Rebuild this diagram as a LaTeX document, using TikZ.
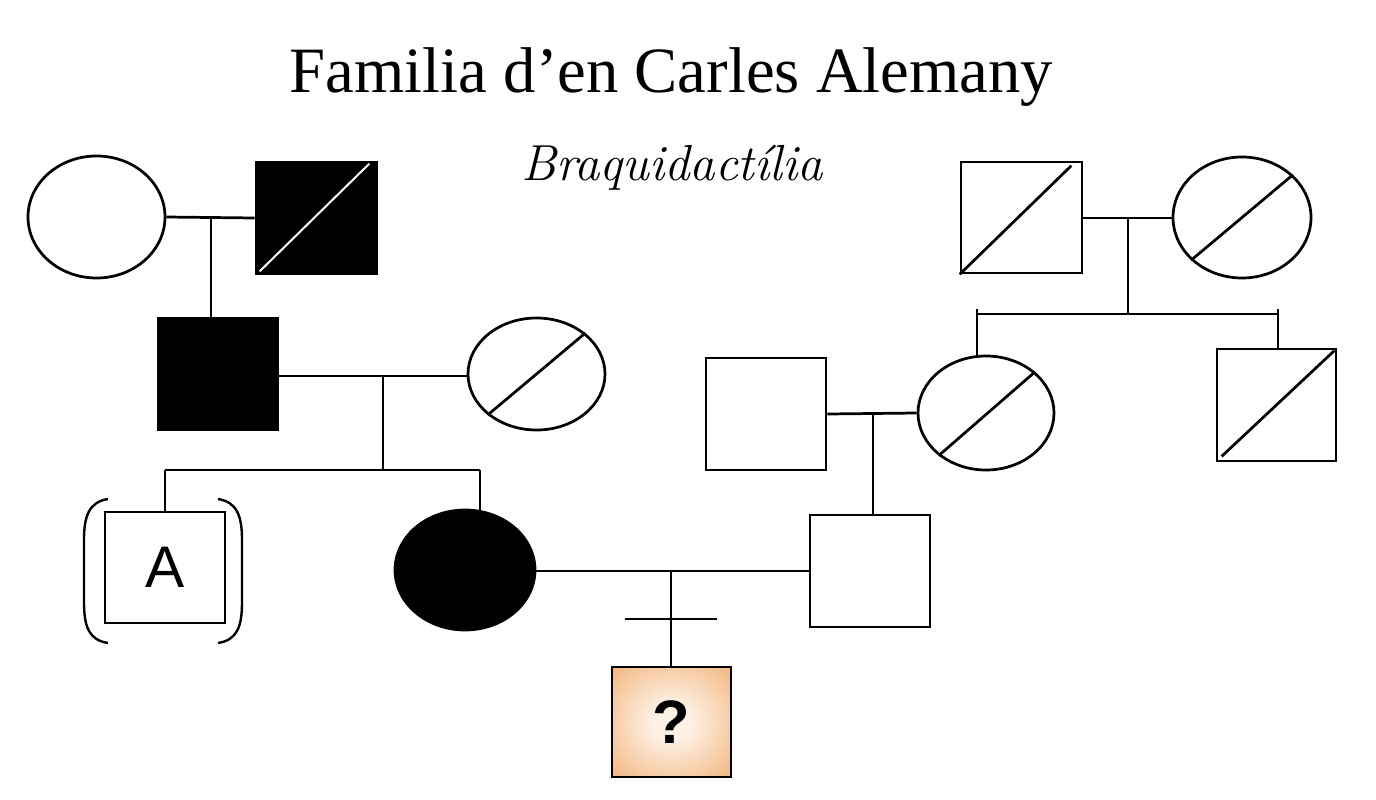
\documentclass[tikz,border=0pt]{standalone}
\usepackage{fontspec}
\usetikzlibrary{shapes.geometric,calc}
\newfontfamily\titlefont{Liberation Serif}
\newfontfamily\labelfont{Liberation Sans}
\definecolor{qin}{HTML}{FDF1E4}
\definecolor{qmid}{HTML}{F3B57E}
\definecolor{qout}{HTML}{EFA460}
\pgfdeclareradialshading{qshade}{\pgfpoint{0bp}{0bp}}{color(0bp)=(qin); color(8bp)=(qin); color(36bp)=(qmid); color(52bp)=(qout); color(70bp)=(qout)}
\begin{document}
\begin{tikzpicture}[x=0.75pt,y=-0.75pt,line width=2.05pt,
  size/.style 2 args={minimum width=#1*0.75pt,minimum height=#2*0.75pt},
  male/.style={draw,rectangle,inner sep=0pt},
  female/.style={draw,ellipse,inner sep=0pt},
  affected/.style={fill=black},
  slash/.style={line width=2.05pt},
  lnk/.style={line width=2.05pt},
  brk/.style={line width=1.8pt}]
\useasboundingbox (0,0) rectangle (1376,799);
% titles
\node[font=\titlefont\fontsize{48.5}{58}\selectfont,anchor=base] (title) at (671.5,92) {Familia d’en Carles Alemany};
\node[font=\itshape\fontsize{38}{44}\selectfont,anchor=base] (sub) at (672,180) {Braquidactília};
% generation I (left)
\node[female,size={137}{122}] (gm1) at (96.5,217) {};
\node[male,affected,size={121}{112}] (gf1) at (316.5,218) {};
\draw[white,line width=1.5pt] ($(gf1.south west)+(5,-4)$) -- ($(gf1.north east)+(-9,3)$);
% generation I (right)
\node[male,size={121}{111}] (ggf) at (1021.5,217.5) {};
\draw[slash] (ggf.south west) -- ($(ggf.north east)+(-12,5)$);
\node[female,size={138}{121}] (ggm) at (1242,217.5) {};
\draw[slash] (ggm.220) -- (ggm.40);
% generation II
\node[male,affected,size={120}{112}] (f1) at (218,374) {};
\node[female,size={137}{112}] (m1) at (536.5,374) {};
\draw[slash] (m1.220) -- (m1.40);
\node[male,size={120}{112}] (gf2) at (766,414) {};
\node[female,size={136}{114}] (gm2) at (986,413) {};
\draw[slash] (gm2.222) -- (gm2.40);
\node[male,size={119}{112}] (unc) at (1276.5,405) {};
\draw[slash] ($(unc.south west)+(6,-6)$) -- ($(unc.north east)+(-3,3)$);
% generation III
\node[male,size={120}{111},font=\labelfont\fontsize{44}{50}\selectfont] (a) at (165,567.5) {A};
\node[female,affected,size={140}{120}] (me) at (465,570) {};
\node[male,size={120}{112}] (hus) at (870,571) {};
% generation IV
\node[male,size={119}{110},shading=qshade,draw=black,
  font=\labelfont\bfseries\fontsize{46}{50}\selectfont] (q) at (671.5,722) {?};
% connectors
\coordinate (c1) at (211,218);
\draw[lnk] (gm1.east) -- (gf1.west);
\draw[lnk] (c1) -- (c1 |- f1.north);
\coordinate (c2) at (383,376);
\draw[lnk] (f1.east |- c2) -- (m1.west |- c2);
\coordinate (s1) at (165,470);
\coordinate (s2) at (480,470);
\draw[lnk] (c2) -- (c2 |- s1);
\draw[lnk] (s1) -- (s2);
\draw[lnk] (s1) -- (a.north);
\draw[lnk] (s2) -- ($(s2 |- me.north)+(0,1)$);
\coordinate (c3) at (671,571);
\draw[lnk] (me.east |- c3) -- (hus.west |- c3);
\draw[lnk] (c3) -- (c3 |- q.north);
\coordinate (x1) at (625,619);
\coordinate (x2) at (717,619);
\draw[lnk] (x1) -- (x2);
\coordinate (c4) at (873,414);
\draw[lnk] (gf2.east) -- (gm2.west);
\draw[lnk] (c4) -- (c4 |- hus.north);
\coordinate (c5) at (1128,218);
\draw[lnk] (ggf.east |- c5) -- (ggm.west |- c5);
\coordinate (s3) at (977,314);
\coordinate (s4) at (1278,314);
\draw[lnk] (c5) -- (c5 |- s3);
\draw[lnk] ($(s3)+(0,-5)$) -- (s3) -- (s4) -- ($(s4)+(0,-5)$);
\draw[lnk] (s3) -- ($(s3 |- gm2.north)+(0,1)$);
\draw[lnk] (s4) -- (s4 |- unc.north);
% brackets around A
\draw[brk] (108,499) .. controls (89,502) and (84,516) .. (84,540) -- (84,602) .. controls (84,627) and (89,640) .. (108,643);
\draw[brk] (218,499) .. controls (237,502) and (242,516) .. (242,540) -- (242,602) .. controls (242,627) and (237,640) .. (218,643);
\end{tikzpicture}
\end{document}
